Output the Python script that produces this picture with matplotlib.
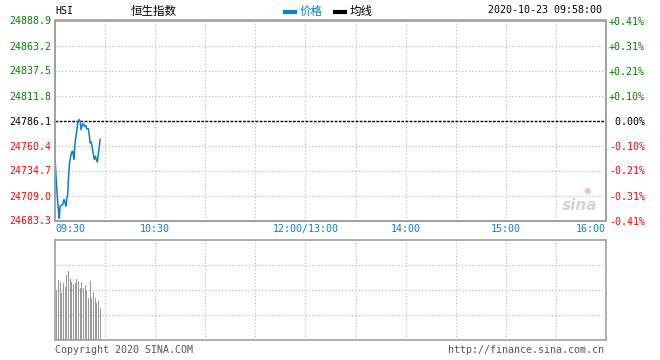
# -*- coding: utf-8 -*-

import numpy as np
import matplotlib
matplotlib.use("Agg")
import matplotlib.pyplot as plt
import matplotlib.transforms as mtransforms

# ---- data (minutes after 09:30, index value) ----
prev_close = 24786.1
price_levels = [24888.9, 24863.2, 24837.5, 24811.8, 24786.1, 24760.4, 24734.7, 24709.0, 24683.3]

minutes = [0, 0.6, 1.4, 2, 2.6, 3, 3.6, 4.6, 5.4, 6, 6.6, 7, 7.6, 8, 8.6, 9.4, 10, 10.6,
           11.4, 12, 13, 13.6, 14.4, 15, 15.6, 16.4, 17, 17.6, 18.4, 19, 20, 20.6, 21,
           21.6, 22.2, 23, 23.6, 24.2, 24.8, 25.4, 26, 26.6, 27]
prices = [24747.8, 24728.8, 24706.9, 24694.6, 24685.4, 24698.0, 24698.7, 24699.7, 24704.9,
          24701.8, 24698.0, 24704.9, 24710.0, 24725.4, 24740.9, 24749.4, 24753.5, 24754.5,
          24746.0, 24763.2, 24775.1, 24783.7, 24787.1, 24785.4, 24776.8, 24782.0, 24783.0,
          24780.2, 24781.0, 24777.6, 24777.6, 24770.0, 24763.2, 24764.0, 24759.7, 24751.1,
          24746.0, 24749.4, 24746.0, 24743.6, 24752.9, 24759.7, 24766.6]

vol_minutes = list(range(1, 28))
volumes = [50, 60, 57.7, 47, 57.3, 53.3, 65, 69, 61, 58, 55.7, 57.3, 61, 59, 52.3, 58.3,
           52, 55, 50, 42, 59, 42.3, 48.3, 42.3, 37.3, 39, 32.3]

tick_pos = [0, 60, 150, 210, 270, 330]
tick_labels = ["09:30", "10:30", "12:00/13:00", "14:00", "15:00", "16:00"]

# ---- style ----
blue = "#0a7ed0"
green = "#008000"
red = "#ff0000"
frame = "#a0a0a0"
grid_c = "#b4b4b4"
mono = "DejaVu Sans Mono"
cjk = ["Noto Sans CJK SC", "DejaVu Sans"]

fig = plt.figure(figsize=(6.6, 3.6), dpi=100)
W, H = 660.0, 360.0
ax = fig.add_axes([55 / W, 1 - 220.5 / H, 551 / W, 200 / H])
axv = fig.add_axes([55 / W, 1 - 340 / H, 551 / W, 100 / H])

# =======================
# price panel
# =======================
ax.plot(minutes, prices, color=blue, lw=1.1, zorder=3)
ax.axhline(prev_close, color="black", lw=1, linestyle=(0, (2, 1)), zorder=2)

ax.set_xlim(0, 330)
ax.set_ylim(price_levels[-1], price_levels[0])
ax.set_yticks(price_levels)
ax.set_yticklabels(["%.1f" % p for p in price_levels], fontfamily=mono, fontsize=7.2)
for lab, p in zip(ax.get_yticklabels(), price_levels):
    lab.set_color(green if p > prev_close + 0.01 else (red if p < prev_close - 0.01 else "black"))

for p in price_levels[1:-1]:
    if abs(p - prev_close) > 0.01:
        ax.axhline(p, color=grid_c, lw=0.8, linestyle=(0, (1, 2)), zorder=1)
for t in range(30, 330, 30):
    ax.axvline(t, color=grid_c, lw=0.8, linestyle=(0, (1, 2)), zorder=1)

ax.set_xticks(tick_pos)
ax.set_xticklabels(tick_labels, fontfamily=mono, fontsize=7.2, color=blue)
xlabs = ax.get_xticklabels()
xlabs[0].set_ha("left")
xlabs[-1].set_ha("right")
shift = mtransforms.ScaledTranslation(-4 / 72.0, 0, fig.dpi_scale_trans)
for lab in xlabs[1:-1]:
    lab.set_transform(lab.get_transform() + shift)
ax.tick_params(length=0, pad=2.5)

# right axis: percent change
ax2 = ax.twinx()
ax2.set_ylim(ax.get_ylim())
ax2.set_yticks(price_levels)
pct = [(p - prev_close) / prev_close * 100 for p in price_levels]
ax2.set_yticklabels([("+%.2f%%" % v if v > 0.001 else ("%.2f%%" % v if v < -0.001 else " 0.00%")) for v in pct],
                    fontfamily=mono, fontsize=7.2)
for lab, v in zip(ax2.get_yticklabels(), pct):
    lab.set_color(green if v > 0.001 else (red if v < -0.001 else "black"))
ax2.tick_params(length=0, pad=2)

for a in (ax, ax2):
    for s in a.spines.values():
        s.set_color(frame)
        s.set_linewidth(1.2)

# sina watermark
ax.text(0.985, 0.04, "sina", transform=ax.transAxes, ha="right", va="bottom",
        fontsize=11, fontstyle="italic", fontweight="bold", color="#c8c8c8", alpha=0.8)
ax.text(0.965, 0.13, "\u25CF", transform=ax.transAxes, ha="center", va="bottom",
        fontsize=6, color="#f2b0b0", alpha=0.8)

# =======================
# volume panel
# =======================
axv.bar(vol_minutes, volumes, width=0.6, color="#999999", zorder=2)
axv.set_xlim(0, 330)
axv.set_ylim(0, 100)
for v in (25, 50, 75):
    axv.axhline(v, color=grid_c, lw=0.8, linestyle=(0, (1, 2)), zorder=1)
for t in range(30, 330, 30):
    axv.axvline(t, color=grid_c, lw=0.8, linestyle=(0, (1, 2)), zorder=1)
axv.set_xticks([])
axv.set_yticks([])
for s in axv.spines.values():
    s.set_color(frame)
    s.set_linewidth(1.2)

# =======================
# header / footer texts
# =======================
fig.text(55 / W, 1 - 11 / H, "HSI", fontfamily=mono, fontsize=7.2, va="center", ha="left")
fig.text(154 / W, 1 - 11 / H, "恒生指数", family=cjk, fontsize=8.3, va="center", ha="center")
fig.add_artist(plt.Line2D([285 / W, 295 / W], [1 - 11.5 / H] * 2, color=blue, lw=3))
fig.text(300 / W, 1 - 11 / H, "价格", family=cjk, fontsize=8.3, va="center", ha="left", color=blue)
fig.add_artist(plt.Line2D([335 / W, 345 / W], [1 - 11.5 / H] * 2, color="black", lw=3))
fig.text(350 / W, 1 - 11 / H, "均线", family=cjk, fontsize=8.3, va="center", ha="left")
fig.text(602 / W, 1 - 10 / H, "2020-10-23 09:58:00", fontfamily=mono, fontsize=7.2,
         va="center", ha="right")

fig.text(55 / W, 1 - 350 / H, "Copyright 2020 SINA.COM", fontfamily=mono, fontsize=7.2,
         va="center", ha="left", color="#555555")
fig.text(604 / W, 1 - 350 / H, "http://finance.sina.com.cn", fontfamily=mono, fontsize=7.2,
         va="center", ha="right", color="#555555")

plt.savefig("out.png", dpi=100)
